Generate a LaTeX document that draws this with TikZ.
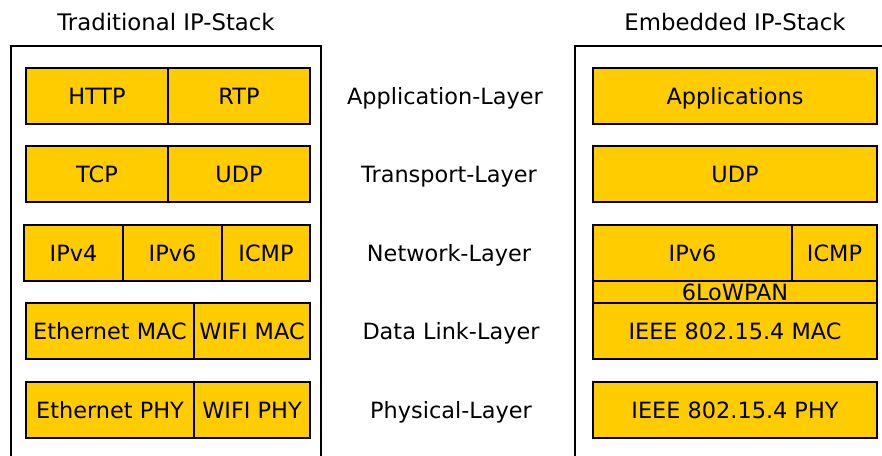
\documentclass[tikz,border=0pt]{standalone}
\usepackage{fontspec}
\setmainfont{DejaVu Sans}
\definecolor{layerfill}{HTML}{FFCC00}
\begin{document}
\begin{tikzpicture}[x=1pt,y=-1pt,
  every node/.style={font=\fontsize{22.4}{26}\selectfont},
  cell/.style={draw=black, line width=1.8pt, fill=layerfill, rectangle,
    inner sep=0pt, text height=16pt, text depth=0pt, minimum height=56pt},
  lbl/.style={inner sep=0pt, text height=16pt, text depth=0pt},
  title/.style={lbl, font=\fontsize{22.8}{26}\selectfont},
  frame/.style={draw=black, line width=1.6pt}]
\useasboundingbox (0,0) rectangle (882,455);

% stack frames (open at the bottom)
\draw[frame] (11,470) -- (11,46) -- (321,46) -- (321,470);
\draw[frame] (575,470) -- (575,46) -- (900,46);

% titles
\node[title] (tradtitle) at (166,22) {Traditional IP-Stack};
\node[title] (embtitle) at (735,22) {Embedded IP-Stack};

% traditional stack
\node[cell, minimum width=142pt] (http) at (97,96) {HTTP};
\node[cell, minimum width=142pt] (rtp) at (239,96) {RTP};
\node[cell, minimum width=142pt] (tcp) at (97,174) {TCP};
\node[cell, minimum width=142pt] (udpl) at (239,174) {UDP};
\node[cell, minimum width=99pt] (ipv4) at (73.5,253) {IPv4};
\node[cell, minimum width=99pt] (ipv6l) at (172.5,253) {IPv6};
\node[cell, minimum width=88pt] (icmpl) at (266,253) {ICMP};
\node[cell, minimum width=168pt] (ethmac) at (110,331) {Ethernet MAC};
\node[cell, minimum width=116pt] (wifimac) at (252,331) {WIFI MAC};
\node[cell, minimum width=168pt] (ethphy) at (110,410) {Ethernet PHY};
\node[cell, minimum width=116pt] (wifiphy) at (252,410) {WIFI PHY};

% layer names
\node[lbl] (applayer) at (445,96) {Application-Layer};
\node[lbl] (translayer) at (449,174) {Transport-Layer};
\node[lbl] (netlayer) at (449,253) {Network-Layer};
\node[lbl] (linklayer) at (451,331) {Data Link-Layer};
\node[lbl] (phylayer) at (451,410) {Physical-Layer};

% embedded stack
\node[cell, minimum width=284pt] (apps) at (735,96) {Applications};
\node[cell, minimum width=284pt] (udpr) at (735,174) {UDP};
\node[cell, minimum width=199pt] (ipv6r) at (692.5,253) {IPv6};
\node[cell, minimum width=85pt] (icmpr) at (834.5,253) {ICMP};
\node[cell, minimum width=284pt, minimum height=22pt] (lowpan) at (735,292) {6LoWPAN};
\node[cell, minimum width=284pt] (ieeemac) at (735,331) {IEEE 802.15.4 MAC};
\node[cell, minimum width=284pt] (ieeephy) at (735,410) {IEEE 802.15.4 PHY};
\end{tikzpicture}
\end{document}
